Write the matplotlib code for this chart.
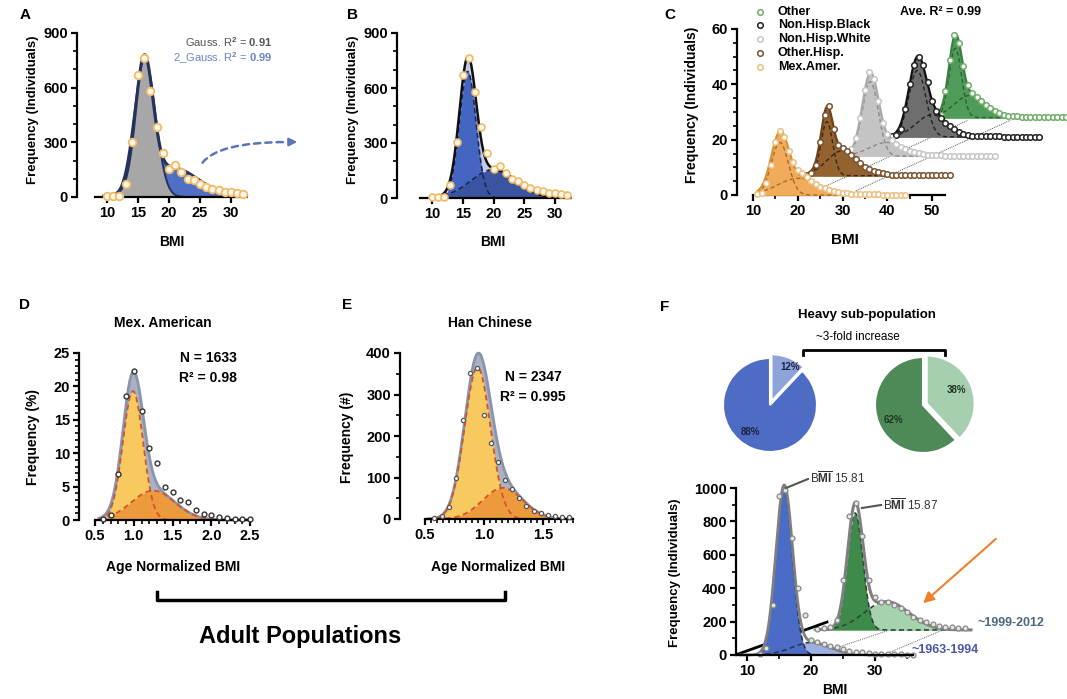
import numpy as np
import matplotlib
matplotlib.use('Agg')
import matplotlib.pyplot as plt

plt.rcParams['font.family'] = ['Liberation Sans', 'DejaVu Sans']
plt.rcParams['font.weight'] = 'bold'
plt.rcParams['axes.labelweight'] = 'bold'
plt.rcParams['mathtext.fontset'] = 'custom'
plt.rcParams['mathtext.rm'] = 'Liberation Sans'
plt.rcParams['mathtext.bf'] = 'Liberation Sans:bold'
plt.rcParams['mathtext.it'] = 'Liberation Sans:italic'

W, H = 1067, 699

# ------------------------------------------------------------------ data
# Panels A / B : BMI histogram (individuals)
bmi_ab = list(range(10, 33))
freq_ab = [5, 5, 8, 73, 303, 670, 762, 579, 386, 243, 156, 175, 138, 101, 92,
           73, 55, 45, 37, 30, 25, 20, 15]
fit_a_single = (760, 16.1, 1.7)                 # (amplitude, mean, sd)
fit_a_double = [(690, 16.0, 1.4), (160, 20.5, 4.2)]
fit_b_double = [(690, 15.8, 1.35), (155, 20.0, 3.7)]

# Panel C : waterfall by group (relative frequency above each baseline)
c_groups = ['Other', 'Non.Hisp.Black', 'Non.Hisp.White', 'Other.Hisp.', 'Mex.Amer.']
c_bmi = list(range(11, 45))
c_other = [0.2, 0.8, 9.6, 20.7, 30, 27, 18.5, 11.6, 8.7, 7.5, 6, 4.6, 3.4, 2.3, 1.5, 1,
           0.7, 0.5, 0.4, 0.3, 0.3, 0.2, 0.2, 0.2, 0.1, 0.1, 0.1, 0.1, 0.1, 0.1, 0.1, 0.1, 0.1, 0.1]
c_nhblack = [0.2, 0.6, 3, 10, 19, 26, 29, 26, 20, 13, 9.5, 7, 5, 4, 2.7, 1.8, 1.1, 0.7,
             0.5, 0.4, 0.3, 0.3, 0.2, 0.2, 0.2, 0.1, 0.1, 0.1, 0.1, 0.1, 0.1, 0.1, 0.1, 0.1]
c_nhwhite = [0.5, 2.5, 6.5, 14, 24, 30.5, 28, 20, 12, 8, 6, 4.5, 3.5, 2.5, 2, 1.5, 1.1,
             0.8, 0.6, 0.5, 0.4, 0.3, 0.2, 0.2, 0.2, 0.1, 0.1, 0.1, 0.1, 0.1, 0.1, 0.1, 0.1, 0.1]
c_othhisp = [0.1, 0.3, 1, 4, 12, 22, 25, 17, 11, 10, 9, 7.5, 6, 4.5, 3.3, 2.5, 1.8, 1.2,
             0.9, 0.6, 0.4, 0.3, 0.3, 0.2, 0.2, 0.2, 0.1, 0.1, 0.1, 0.1, 0.1, 0.1, 0.1, 0.1]
c_mexamer = [0.3, 0.8, 4.5, 11, 19, 23, 21, 16, 12, 9, 8, 6.5, 5, 4, 3, 2.4, 1.8, 1.3,
             1.0, 0.8, 0.6, 0.5, 0.4, 0.3, 0.3, 0.2, 0.2, 0.2, 0.1, 0.1, 0.1, 0.1, 0.1, 0.1]
c_fits = [[(25, 15.2, 1.4), (8, 18.5, 3.5)],
          [(24, 16.7, 1.9), (8, 20.0, 3.5)],
          [(27, 16.2, 1.8), (5, 20.0, 4.0)],
          [(19.5, 16.5, 1.3), (9, 20.0, 3.5)],
          [(19, 16.0, 1.9), (6, 20.0, 4.5)]]
c_xshift = [40, 30, 20, 10, 0]
c_yshift = [28, 21, 14, 7, 0]

# Panel D : Mexican American, age-normalised BMI (%)
d_x = [0.6, 0.7, 0.8, 0.9, 1.0, 1.1, 1.2, 1.3, 1.4, 1.5, 1.6, 1.7, 1.8, 1.9, 2.0,
       2.1, 2.2, 2.3, 2.4, 2.5]
d_y = [0.1, 0.75, 6.9, 18.6, 22.25, 16.25, 10.75, 8.6, 5, 4.25, 3, 2.65, 1.5, 0.85,
       0.75, 0.5, 0.25, 0.1, 0.1, 0.1]
d_fits = [(19.3, 0.99, 0.13), (4.4, 1.25, 0.28)]

# Panel E : Han Chinese, age-normalised BMI (#)
e_x = [0.58, 0.64, 0.70, 0.76, 0.82, 0.88, 0.94, 1.00, 1.06, 1.12, 1.18, 1.24, 1.30,
       1.36, 1.42, 1.48, 1.54, 1.60, 1.66, 1.72]
e_y = [3, 8, 30, 100, 238, 351, 364, 250, 182, 138, 95, 72, 50, 32, 20, 15, 10, 8, 5, 4]
e_fits = [(365, 0.945, 0.11), (75, 1.16, 0.17)]

# Panel F : heavy sub-population pies and two eras
f_pie_early = [12, 88]
f_pie_late = [38, 62]
f_bmi_early = list(range(12, 37))
f_freq_early = [5, 40, 300, 950, 990, 700, 400, 240, 90, 75, 65, 55, 45, 35, 25, 20, 15,
                10, 8, 6, 5, 4, 3, 2, 2]
f_fits_early = [(990, 15.8, 1.3), (75, 20.0, 3.0)]
f_bmi_late = list(range(10, 34))
f_freq_late = [5, 10, 20, 60, 300, 680, 760, 560, 300, 200, 170, 165, 150, 130, 105, 80,
               60, 45, 35, 25, 20, 15, 12, 10]
f_fits_late = [(700, 15.9, 1.2), (170, 20.8, 3.5)]
f_late_shift = (11, 150)


def gauss(x, a, m, s):
    return a * np.exp(-(x - m) ** 2 / (2 * s ** 2))


def gsum(x, fits):
    return sum(gauss(x, *f) for f in fits)


fig = plt.figure(figsize=(W / 100, H / 100), dpi=100)


def ftext(x, y, s, **kw):
    return fig.text(x / W, 1 - y / H, s, **kw)


def make_ax(box, xmap, ymap):
    l, r, t, b = box
    ax = fig.add_axes([l / W, 1 - b / H, (r - l) / W, (b - t) / H])
    xv1, xp1, xv2, xp2 = xmap
    sx = (xp2 - xp1) / (xv2 - xv1)
    ax.set_xlim(xv1 + (l - xp1) / sx, xv1 + (r - xp1) / sx)
    yv1, yp1, yv2, yp2 = ymap
    sy = (yp2 - yp1) / (yv2 - yv1)
    ax.set_ylim(yv1 + (b - yp1) / sy, yv1 + (t - yp1) / sy)
    ax.patch.set_alpha(0)
    px2x = lambda p: xv1 + (p - xp1) / sx
    return ax, px2x


def style(ax, spine_x, xb, yb, xt, yt, xmin=(), ymin=(), fs=10.5, lw=1.6):
    for s in ['top', 'right']:
        ax.spines[s].set_visible(False)
    ax.spines['left'].set_position(('data', spine_x))
    ax.spines['bottom'].set_position(('data', 0))
    ax.spines['left'].set_bounds(*yb)
    ax.spines['bottom'].set_bounds(*xb)
    for s in ['left', 'bottom']:
        ax.spines[s].set_linewidth(lw)
    ax.set_xticks(xt)
    ax.set_yticks(yt)
    ax.set_xticks(list(xmin), minor=True)
    ax.set_yticks(list(ymin), minor=True)
    ax.tick_params(which='major', direction='out', length=4.5, width=lw, labelsize=fs, pad=2)
    ax.tick_params(which='minor', direction='out', length=3, width=1.2)
    for lab in ax.get_xticklabels() + ax.get_yticklabels():
        lab.set_fontweight('bold')


# ------------------------------------------------------------------ panel A
axA, pA = make_ax((70, 262, 25, 206), (10, 107, 30, 231), (0, 197, 900, 33))
xa = np.linspace(9.5, 32.5, 500)
axA.fill_between(xa, 0, gsum(xa, fit_a_double), color='#4F6FC4', lw=0)
axA.fill_between(xa, 0, gauss(xa, *fit_a_single), color='#A7A7A7', lw=0)
axA.plot(xa, gsum(xa, fit_a_double), color='#26325E', lw=2.2)
axA.plot(xa, gauss(xa, *fit_a_single), color='#26325E', lw=1.4)
axA.plot(bmi_ab, freq_ab, 'o', mfc='#FFF8EA', mec='#F0BC6A', ms=5.5, mew=1.3, clip_on=False, zorder=5)
style(axA, pA(77), (8, 32), (0, 900), [10, 15, 20, 25, 30], [0, 300, 600, 900],
      ymin=[100, 200, 400, 500, 700, 800])
ftext(272, 42, r'Gauss. R$^2$ = $\mathbf{0.91}$', fontsize=8, fontweight='normal',
      color='#555555', ha='right', va='center')
ftext(272, 58, r'2_Gauss. R$^2$ = $\mathbf{0.99}$', fontsize=8, fontweight='normal',
      color='#6E82C4', ha='right', va='center')
fig.add_artist(matplotlib.patches.FancyArrowPatch(
    (201, H - 165), (289, H - 142), transform=None, arrowstyle='-',
    connectionstyle='angle3,angleA=60,angleB=0', linestyle=(0, (2.5, 2)), color='#5B74B8', lw=1.8))
fig.add_artist(matplotlib.patches.FancyArrowPatch(
    (286, H - 142), (300, H - 142), transform=None, arrowstyle='-|>', mutation_scale=12,
    color='#5B74B8', lw=1.5))
ftext(33, 110, 'Frequency (Individuals)', rotation=90, ha='center', va='center', fontsize=9.5)
ftext(172, 242, 'BMI', ha='center', va='center', fontsize=10)
ftext(25, 15, 'A', ha='center', va='center', fontsize=11)

# ------------------------------------------------------------------ panel B
axB, pB = make_ax((390, 582, 25, 206), (10, 432, 30, 555), (0, 198, 900, 33))
xb = np.linspace(10.5, 32.5, 500)
axB.fill_between(xb, 0, gsum(xb, fit_b_double), color='#C2CBEA', lw=0)
axB.fill_between(xb, 0, gauss(xb, *fit_b_double[0]), color='#4466C2', lw=0)
axB.fill_between(xb, 0, gauss(xb, *fit_b_double[1]), color='#3A54A2', lw=0)
for f in fit_b_double:
    axB.plot(xb, gauss(xb, *f), color='#1C2650', lw=1.2, ls=(0, (3, 2)))
axB.plot(xb, gsum(xb, fit_b_double), color='#111111', lw=1.8)
axB.plot(bmi_ab, freq_ab, 'o', mfc='#FFF8EA', mec='#F0BC6A', ms=5, mew=1.2, clip_on=False, zorder=5)
style(axB, pB(397), (8, 32), (0, 900), [10, 15, 20, 25, 30], [0, 300, 600, 900],
      ymin=[100, 200, 400, 500, 700, 800])
ftext(353, 110, 'Frequency (Individuals)', rotation=90, ha='center', va='center', fontsize=9.5)
ftext(493, 242, 'BMI', ha='center', va='center', fontsize=10)
ftext(352, 15, 'B', ha='center', va='center', fontsize=11)

# ------------------------------------------------------------------ panel C
axC, pC = make_ax((730, 1067, 3, 202), (10, 753, 50, 932), (0, 195, 60, 29))
c_data = [c_other, c_nhblack, c_nhwhite, c_othhisp, c_mexamer]
c_fill = ['#4F9B58', '#6E6E6E', '#C4C4C4', '#93622F', '#F0AC5A']
c_line = ['#3C7F44', '#111111', '#A9A9A9', '#6B431E', '#D8913A']
c_dash = ['#2C5F33', '#222222', '#8A8A8A', '#3E260F', '#A8692A']
c_mec = ['#6FAE66', '#222222', '#C6C6C6', '#7A5230', '#EDBE7E']
# guide lines of the waterfall
axC.plot([26, 58], [3, 27], color='#555555', lw=0.7, ls=(0, (1, 1)), zorder=1)
axC.plot([33, 67.5], [1.5, 27], color='#555555', lw=0.7, ls=(0, (1, 1)), zorder=1)
xc = np.linspace(11, 44, 500)
for i in range(5):
    xs, ys = c_xshift[i], c_yshift[i]
    tot = gsum(xc, c_fits[i])
    axC.fill_between(xc + xs, ys, ys + tot, color=c_fill[i], lw=0, zorder=2 + i)
    axC.plot([11 + xs, 44 + xs], [ys, ys], color=c_fill[i], lw=1.2, zorder=2 + i)
    for f in c_fits[i]:
        axC.plot(xc + xs, ys + gauss(xc, *f), color=c_dash[i], lw=1.0, ls=(0, (3, 2)), zorder=2 + i)
    axC.plot(xc + xs, ys + tot, color=c_line[i], lw=1.6, zorder=2 + i)
    axC.plot(np.array(c_bmi) + xs, np.array(c_data[i]) + ys, 'o', mfc='white', mec=c_mec[i],
             ms=4, mew=1.1, zorder=3 + i, clip_on=True)
style(axC, pC(737), (10, 53), (0, 60), [10, 20, 30, 40, 50], [0, 20, 40, 60],
      xmin=[15, 25, 35, 45], ymin=[5, 10, 15, 25, 30, 35, 45, 50, 55])
leg_y = [12, 25, 39, 53, 67]
for i, g in enumerate(c_groups):
    fig.add_artist(matplotlib.lines.Line2D([760 / W], [1 - leg_y[i] / H], marker='o', mfc='white',
                                           mec=c_mec[i], ms=4, mew=1.1, transform=fig.transFigure))
    ftext(778, leg_y[i], g, ha='left', va='center', fontsize=9)
ftext(900, 12, 'Ave. R² = 0.99', ha='left', va='center', fontsize=9)
ftext(692, 105, 'Frequency (Individuals)', rotation=90, ha='center', va='center', fontsize=10)
ftext(845, 240, 'BMI', ha='center', va='center', fontsize=11)
ftext(670, 15, 'C', ha='center', va='center', fontsize=11)

# ------------------------------------------------------------------ panel D
axD, pD = make_ax((72, 265, 345, 528), (0.5, 95, 2.5, 250), (0, 520, 25, 353))
xd = np.linspace(0.55, 2.5, 500)
axD.fill_between(xd, 0, gsum(xd, d_fits), color='#A9B1C2', lw=0)
axD.fill_between(xd, 0, gauss(xd, *d_fits[0]), color='#F7C95E', lw=0)
axD.fill_between(xd, 0, gauss(xd, *d_fits[1]), color='#EC9A3C', lw=0)
axD.plot(xd, gsum(xd, d_fits), color='#8A94AA', lw=2)
for f in d_fits:
    axD.plot(xd, gauss(xd, *f), color='#D5532A', lw=1.3, ls=(0, (3, 2)))
axD.plot(d_x, d_y, 'o', mfc='white', mec='#333333', ms=3.5, mew=1.0, clip_on=False, zorder=5)
style(axD, pD(79), (0.5, 2.5), (0, 25), [0.5, 1.0, 1.5, 2.0, 2.5], [0, 5, 10, 15, 20, 25],
      xmin=np.round(np.arange(0.6, 2.5, 0.1), 2), ymin=[v for v in range(1, 25) if v % 5])
axD.set_xticklabels(['0.5', '1.0', '1.5', '2.0', '2.5'], fontweight='bold')
ftext(163, 323, 'Mex. American', ha='center', va='center', fontsize=10)
ftext(208, 358, 'N = 1633', ha='center', va='center', fontsize=10)
ftext(208, 378, 'R² = 0.98', ha='center', va='center', fontsize=10)
ftext(33, 437, 'Frequency (%)', rotation=90, ha='center', va='center', fontsize=10)
ftext(173, 567, 'Age Normalized BMI', ha='center', va='center', fontsize=10)
ftext(25, 305, 'D', ha='center', va='center', fontsize=11)

# ------------------------------------------------------------------ panel E
axE, pE = make_ax((393, 590, 345, 528), (0.5, 425, 1.5, 543), (0, 519, 400, 353))
xe = np.linspace(0.52, 1.75, 500)
axE.fill_between(xe, 0, gsum(xe, e_fits), color='#A9B1C2', lw=0)
axE.fill_between(xe, 0, gauss(xe, *e_fits[0]), color='#F7C95E', lw=0)
axE.fill_between(xe, 0, gauss(xe, *e_fits[1]), color='#EC9A3C', lw=0)
axE.plot(xe, gsum(xe, e_fits), color='#8A94AA', lw=2)
for f in e_fits:
    axE.plot(xe, gauss(xe, *f), color='#D5532A', lw=1.3, ls=(0, (3, 2)))
axE.plot(e_x, e_y, 'o', mfc='white', mec='#555555', ms=3, mew=0.9, clip_on=False, zorder=5)
style(axE, pE(400), (0.5, 1.75), (0, 400), [0.5, 1.0, 1.5], [0, 100, 200, 300, 400],
      xmin=np.round(np.arange(0.55, 1.76, 0.05), 2), ymin=[50, 150, 250, 350])
axE.set_xticklabels(['0.5', '1.0', '1.5'], fontweight='bold')
ftext(490, 323, 'Han Chinese', ha='center', va='center', fontsize=10)
ftext(533, 377, 'N = 2347', ha='center', va='center', fontsize=10)
ftext(533, 397, 'R² = 0.995', ha='center', va='center', fontsize=10)
ftext(347, 437, 'Frequency (#)', rotation=90, ha='center', va='center', fontsize=10)
ftext(498, 567, 'Age Normalized BMI', ha='center', va='center', fontsize=10)
ftext(347, 305, 'E', ha='center', va='center', fontsize=11)

# bracket + Adult Populations
fig.add_artist(matplotlib.lines.Line2D([157 / W, 157 / W, 505 / W, 505 / W],
                                       [1 - 592 / H, 1 - 600 / H, 1 - 600 / H, 1 - 592 / H],
                                       color='black', lw=2.5, transform=fig.transFigure))
ftext(300, 636, 'Adult Populations', ha='center', va='center', fontsize=17)

# ------------------------------------------------------------------ panel F pies
def pie_ax(cx, cy, r):
    size = 2 * r + 30
    ax = fig.add_axes([(cx - size / 2) / W, 1 - (cy + size / 2) / H, size / W, size / H])
    return ax, size


pa, sz = pie_ax(770, 405, 47)
pa.pie(f_pie_early, radius=47, startangle=90, counterclock=False, explode=[4, 0],
       colors=['#8EA3DA', '#4E6CC3'], wedgeprops=dict(edgecolor='white', linewidth=1.5))
pa.set_xlim(-sz / 2, sz / 2); pa.set_ylim(-sz / 2, sz / 2); pa.set_aspect('equal'); pa.axis('off')
pa.text(20, 38, '12%', ha='center', va='center', fontsize=7, color='#1B2340')
pa.text(-20, -27, '88%', ha='center', va='center', fontsize=7, color='#1B2340')

pb, sz = pie_ax(923, 405, 48)
pb.pie(f_pie_late, radius=48, startangle=90, counterclock=False, explode=[4, 0],
       colors=['#A6CFB0', '#4E8A58'], wedgeprops=dict(edgecolor='white', linewidth=1.5))
pb.set_xlim(-sz / 2, sz / 2); pb.set_ylim(-sz / 2, sz / 2); pb.set_aspect('equal'); pb.axis('off')
pb.text(33, 15, '38%', ha='center', va='center', fontsize=7, color='#1F3424')
pb.text(-30, -15, '62%', ha='center', va='center', fontsize=7, color='#1F3424')

ftext(867, 315, 'Heavy sub-population', ha='center', va='center', fontsize=9.5)
ftext(858, 337, '~3-fold increase', ha='center', va='center', fontsize=8.5, fontweight='normal')
fig.add_artist(matplotlib.lines.Line2D([803 / W, 803 / W, 945 / W, 945 / W],
                                       [1 - 355 / H, 1 - 350 / H, 1 - 350 / H, 1 - 355 / H],
                                       color='black', lw=2, transform=fig.transFigure))
ftext(665, 307, 'F', ha='center', va='center', fontsize=11)

# ------------------------------------------------------------------ panel F lower
axF, pF = make_ax((728, 1000, 475, 664), (10, 747, 30, 875), (0, 655, 1000, 488))
lx, ly = f_late_shift
xf = np.linspace(10, 34, 500)
# depth guides
axF.plot([24.5, 32.3], [50, 150], color='#666666', lw=0.7, ls=(0, (1, 1)), zorder=1)
axF.plot([31.8, 40.6], [8, 150], color='#666666', lw=0.7, ls=(0, (1, 1)), zorder=1)
# late era (back)
axF.plot([20.5, 44.5], [ly, ly], color='#A6D3AE', lw=1.5, zorder=2, clip_on=False)
axF.fill_between(xf + lx, ly, ly + gauss(xf, *f_fits_late[1]), color='#A6D3AE', lw=0, zorder=2)
axF.fill_between(xf + lx, ly, ly + gauss(xf, *f_fits_late[0]), color='#3E8A4A', lw=0, zorder=2)
for f in f_fits_late:
    axF.plot(xf + lx, ly + gauss(xf, *f), color='#2E4A35', lw=1.2, ls=(0, (3, 2)), zorder=3, clip_on=False)
axF.plot(xf + lx, ly + gsum(xf, f_fits_late), color='#7F7F7F', lw=2.2, zorder=3, clip_on=False)
axF.plot(np.array(f_bmi_late) + lx, np.array(f_freq_late) + ly, 'o', mfc='#E6E6E6', mec='#888888',
         ms=3.5, mew=0.9, zorder=4, clip_on=False)
# depth axis
axF.plot([8.2, 22.7], [0, 200], color='black', lw=2, zorder=4, solid_capstyle='butt')
# early era (front)
xf2 = np.linspace(9, 36, 500)
axF.fill_between(xf2, 0, gauss(xf2, *f_fits_early[1]), color='#9CB0E4', lw=0, zorder=5)
axF.fill_between(xf2, 0, gauss(xf2, *f_fits_early[0]), color='#4A6CC6', lw=0, zorder=5)
for f in f_fits_early:
    axF.plot(xf2, gauss(xf2, *f), color='#2B3550', lw=1.2, ls=(0, (3, 2)), zorder=6)
axF.plot(xf2, gsum(xf2, f_fits_early), color='#7F7F7F', lw=2, zorder=6)
axF.plot(f_bmi_early, f_freq_early, 'o', mfc='#E6E6E6', mec='#888888', ms=3.5, mew=0.9,
         zorder=7, clip_on=False)
style(axF, pF(736), (8.5, 36), (0, 1000), [10, 20, 30], [0, 200, 400, 600, 800, 1000],
      xmin=[15, 25, 35], ymin=[100, 300, 500, 700, 900])
axF.spines['left'].set_zorder(8)
axF.spines['bottom'].set_zorder(8)

fig.add_artist(matplotlib.lines.Line2D([786 / W, 808 / W], [1 - 488 / H, 1 - 479 / H],
                                       color='#555555', lw=1.5, transform=fig.transFigure))
ftext(810, 478, r'B$\overline{\mathrm{MI}}$ 15.81', ha='left', va='center', fontsize=8.5,
      fontweight='normal', color='#333333')
fig.add_artist(matplotlib.lines.Line2D([862 / W, 881 / W], [1 - 508 / H, 1 - 505 / H],
                                       color='#555555', lw=1.5, transform=fig.transFigure))
ftext(883, 505, r'B$\overline{\mathrm{MI}}$ 15.87', ha='left', va='center', fontsize=8.5,
      fontweight='normal', color='#333333')
ftext(977, 623, '~1999-2012', ha='left', va='center', fontsize=9, color='#4A6A80')
ftext(912, 650, '~1963-1994', ha='left', va='center', fontsize=9, color='#4A56A6')
fig.add_artist(matplotlib.patches.FancyArrowPatch(
    (998, H - 537), (921, H - 605), transform=None, arrowstyle='-|>', mutation_scale=16,
    color='#F07F2E', lw=1.5))
ftext(675, 573, 'Frequency (Individuals)', rotation=90, ha='center', va='center', fontsize=9.5)
ftext(835, 690, 'BMI', ha='center', va='center', fontsize=10)

fig.savefig('out.png', dpi=100)
